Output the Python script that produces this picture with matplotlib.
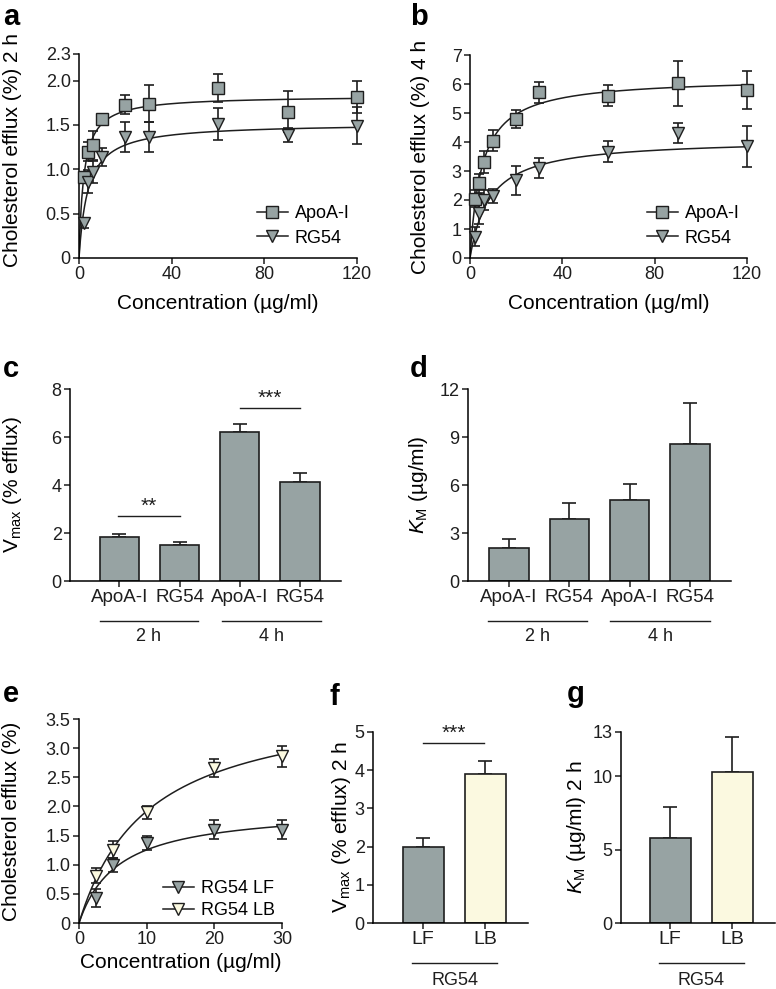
import numpy as np
import matplotlib
matplotlib.use("Agg")
import matplotlib.pyplot as plt
from matplotlib.lines import Line2D

plt.rcParams['font.family'] = ['Liberation Sans', 'DejaVu Sans']
plt.rcParams['mathtext.fontset'] = 'custom'
plt.rcParams['mathtext.rm'] = 'Liberation Sans'
plt.rcParams['mathtext.it'] = 'Liberation Sans:italic'
plt.rcParams['axes.linewidth'] = 1.1
plt.rcParams['xtick.major.width'] = 1.1
plt.rcParams['ytick.major.width'] = 1.1
plt.rcParams['xtick.major.size'] = 4
plt.rcParams['ytick.major.size'] = 4
plt.rcParams['xtick.labelsize'] = 13
plt.rcParams['ytick.labelsize'] = 13
plt.rcParams['axes.labelsize'] = 15

GRAY = '#97a3a3'
CREAM = '#fbf9e0'
DARK = '#1e1e1e'

# panels a, b: concentration series (ug/ml)
conc = [2, 4, 6, 10, 20, 30, 60, 90, 120]
a_apoa = [0.91, 1.20, 1.27, 1.57, 1.73, 1.74, 1.92, 1.65, 1.81]
a_apoa_sd = [0.05, 0.11, 0.16, 0.05, 0.11, 0.21, 0.16, 0.23, 0.18]
a_rg54 = [0.39, 0.86, 0.97, 1.14, 1.36, 1.36, 1.51, 1.39, 1.49]
a_rg54_sd = [0.05, 0.13, 0.12, 0.10, 0.17, 0.17, 0.18, 0.08, 0.21]
b_apoa = [2.05, 2.58, 3.31, 4.05, 4.81, 5.71, 5.60, 6.03, 5.80]
b_apoa_sd = [0.30, 0.33, 0.37, 0.36, 0.31, 0.36, 0.36, 0.78, 0.66]
b_rg54 = [0.74, 1.55, 2.01, 2.13, 2.68, 3.10, 3.67, 4.31, 3.85]
b_rg54_sd = [0.33, 0.38, 0.35, 0.25, 0.50, 0.35, 0.36, 0.35, 0.70]

# panels c, d: kinetic parameters
groups = ['ApoA-I', 'RG54', 'ApoA-I', 'RG54']
vmax = [1.83, 1.52, 6.22, 4.11]
vmax_sd = [0.12, 0.11, 0.33, 0.39]
km = [2.07, 3.86, 5.09, 8.58]
km_sd = [0.54, 1.04, 0.96, 2.57]

# panel e: lipid-free vs lipid-bound RG54
conc_e = [2.5, 5, 10, 20, 30]
e_lf = [0.43, 0.99, 1.38, 1.60, 1.60]
e_lf_sd = [0.15, 0.12, 0.12, 0.16, 0.16]
e_lb = [0.81, 1.26, 1.90, 2.66, 2.86]
e_lb_sd = [0.13, 0.14, 0.11, 0.15, 0.18]

# panels f, g
forms = ['LF', 'LB']
f_vmax = [1.98, 3.89]
f_vmax_sd = [0.24, 0.36]
g_km = [5.78, 10.27]
g_km_sd = [2.13, 2.38]

W, H = 776, 989
fig = plt.figure(figsize=(W / 100, H / 100), dpi=100)


def axes_px(x0, x1, ytop, ybot):
    return fig.add_axes([x0 / W, 1 - ybot / H, (x1 - x0) / W, (ybot - ytop) / H])


def style(ax):
    for s in ['top', 'right']:
        ax.spines[s].set_visible(False)
    ax.tick_params(direction='out', colors=DARK, pad=2)


def mm(x, v, k):
    return v * x / (k + x)


def curve_panel(ax, xvals, series, xmax):
    xs = np.linspace(0, xmax, 400)
    for y, sd, marker, face, v, k in series:
        ax.plot(xs, mm(xs, v, k), color=DARK, lw=1.1, zorder=2)
        ax.errorbar(xvals, y, yerr=sd, fmt='none',
                    ecolor=DARK, elinewidth=1.2, capsize=3.6, capthick=1.2,
                    zorder=3, clip_on=False)
        ax.plot(xvals, y, ls='none', marker=marker,
                ms=8.5, mfc=face, mec=DARK, mew=1.0, zorder=4, clip_on=False)


def legend(ax, items, anchor, spacing):
    handles = [Line2D([], [], color=DARK, lw=1.1, marker=m, ms=8.5, mfc=f,
                      mec=DARK, mew=1.0) for m, f, _ in items]
    ax.legend(handles, [t for _, _, t in items], loc='lower right',
              bbox_to_anchor=anchor, frameon=False, fontsize=13,
              handlelength=1.7, handletextpad=0.4, labelspacing=spacing,
              borderaxespad=0)


# ---- a
ax = axes_px(79, 357, 54, 258)
style(ax)
curve_panel(ax, conc, [(a_apoa, a_apoa_sd, 's', GRAY, vmax[0], km[0]),
                       (a_rg54, a_rg54_sd, 'v', GRAY, vmax[1], km[1])], 120)
ax.set_xlim(0, 120)
ax.set_ylim(0, 2.3)
ax.set_xticks([0, 40, 80, 120])
ax.set_yticks([0, 0.5, 1.0, 1.5, 2.0, 2.3])
ax.set_yticklabels(['0', '0.5', '1.0', '1.5', '2.0', '2.3'])
ax.set_xlabel('Concentration (µg/ml)', labelpad=8)
ax.set_ylabel('Cholesterol efflux (%) 2 h')
ax.yaxis.set_label_coords(-0.205, 0.53)
legend(ax, [('s', GRAY, 'ApoA-I'), ('v', GRAY, 'RG54')], (1.0, 0.02), 0.4)

# ---- b
ax = axes_px(470, 747, 55, 258)
style(ax)
curve_panel(ax, conc, [(b_apoa, b_apoa_sd, 's', GRAY, vmax[2], km[2]),
                       (b_rg54, b_rg54_sd, 'v', GRAY, vmax[3], km[3])], 120)
ax.set_xlim(0, 120)
ax.set_ylim(0, 7)
ax.set_xticks([0, 40, 80, 120])
ax.set_yticks(range(0, 8))
ax.set_xlabel('Concentration (µg/ml)', labelpad=8)
ax.set_ylabel('Cholesterol efflux (%) 4 h')
ax.yaxis.set_label_coords(-0.144, 0.5)
legend(ax, [('s', GRAY, 'ApoA-I'), ('v', GRAY, 'RG54')], (1.0, 0.02), 0.4)


def bar_panel(ax, vals, sds, colors, xlim, width):
    xs = np.arange(len(vals))
    ax.bar(xs, vals, width=width, color=colors, edgecolor=DARK, linewidth=1.2,
           zorder=2)
    ax.errorbar(xs, vals, yerr=[np.zeros(len(vals)), sds], fmt='none',
                ecolor=DARK, elinewidth=1.2, capsize=5, capthick=1.2, zorder=1)
    ax.set_xlim(*xlim)
    ax.set_xticks(xs)


def bracket(ax, x0, x1, yfrac, text, tfrac):
    tr = ax.get_xaxis_transform()
    ax.plot([x0, x1], [yfrac, yfrac], color=DARK, lw=1.0, transform=tr,
            clip_on=False)
    ax.text((x0 + x1) / 2, tfrac, text, transform=tr, ha='center', va='center',
            fontsize=13, color=DARK)


def sig(ax, x0, x1, y, stars):
    ax.plot([x0, x1], [y, y], color=DARK, lw=1.0)
    ax.text((x0 + x1) / 2, y, stars, ha='center', va='bottom', fontsize=15,
            color=DARK)


# ---- c
ax = axes_px(70, 341, 389, 581)
style(ax)
bar_panel(ax, vmax, vmax_sd, GRAY, (-0.82, 3.68), 0.65)
ax.set_ylim(0, 8)
ax.set_yticks([0, 2, 4, 6, 8])
ax.set_xticklabels(groups, fontsize=13.5)
ax.set_ylabel(r'$\mathrm{V}_{\mathrm{max}}$ (% efflux)')
ax.yaxis.set_label_coords(-0.17, 0.5)
sig(ax, -0.02, 1.0, 2.71, '**')
sig(ax, 2.0, 3.0, 7.22, '***')
bracket(ax, -0.33, 1.3, -0.208, '2 h', -0.29)
bracket(ax, 1.7, 3.35, -0.208, '4 h', -0.29)

# ---- d
ax = axes_px(468, 731, 389, 581)
style(ax)
bar_panel(ax, km, km_sd, GRAY, (-0.68, 3.68), 0.65)
ax.set_ylim(0, 12)
ax.set_yticks([0, 3, 6, 9, 12])
ax.set_xticklabels(groups, fontsize=13.5)
ax.set_ylabel(r'$K_{\mathrm{M}}$ (µg/ml)')
ax.yaxis.set_label_coords(-0.144, 0.5)
bracket(ax, -0.35, 1.3, -0.208, '2 h', -0.29)
bracket(ax, 1.68, 3.33, -0.208, '4 h', -0.29)

# ---- e
ax = axes_px(79, 282, 719, 923)
style(ax)
curve_panel(ax, conc_e, [(e_lf, e_lf_sd, 'v', GRAY, f_vmax[0], g_km[0]),
                         (e_lb, e_lb_sd, 'v', CREAM, f_vmax[1], g_km[1])], 30)
ax.set_xlim(0, 30)
ax.set_ylim(0, 3.5)
ax.set_xticks([0, 10, 20, 30])
ax.set_yticks(np.arange(0, 3.51, 0.5))
ax.set_yticklabels(['0', '0.5', '1.0', '1.5', '2.0', '2.5', '3.0', '3.5'])
ax.set_xlabel('Concentration (µg/ml)', labelpad=3)
ax.set_ylabel('Cholesterol efflux (%)')
ax.yaxis.set_label_coords(-0.286, 0.5)
legend(ax, [('v', GRAY, 'RG54 LF'), ('v', CREAM, 'RG54 LB')], (1.0, -0.015), 0.25)

# ---- f
ax = axes_px(373, 528, 732, 923)
style(ax)
bar_panel(ax, f_vmax, f_vmax_sd, [GRAY, CREAM], (-0.81, 1.69), 0.66)
ax.set_ylim(0, 5)
ax.set_yticks(range(0, 6))
ax.set_xticklabels(forms, fontsize=14)
ax.set_ylabel(r'$\mathrm{V}_{\mathrm{max}}$ (% efflux) 2 h')
ax.yaxis.set_label_coords(-0.129, 0.5)
sig(ax, 0.0, 0.98, 4.71, '***')
bracket(ax, -0.18, 1.19, -0.209, 'RG54', -0.30)

# ---- g
ax = axes_px(621, 775, 732, 923)
style(ax)
bar_panel(ax, g_km, g_km_sd, [GRAY, CREAM], (-0.79, 1.69), 0.66)
ax.set_ylim(0, 13)
ax.set_yticks([0, 5, 10, 13])
ax.set_xticklabels(forms, fontsize=14)
ax.set_ylabel(r'$K_{\mathrm{M}}$ (µg/ml) 2 h')
ax.yaxis.set_label_coords(-0.214, 0.5)
bracket(ax, -0.18, 1.19, -0.209, 'RG54', -0.30)

# panel letters
for ch, x, y in [('a', 3, 25), ('b', 410, 25), ('c', 3, 377), ('d', 410, 377),
                 ('e', 3, 702), ('f', 330, 705), ('g', 567, 702)]:
    fig.text(x / W, 1 - y / H, ch, fontsize=21, fontweight='bold',
             va='baseline', ha='left', color='black')

fig.savefig('out.png', dpi=100, facecolor='white')
